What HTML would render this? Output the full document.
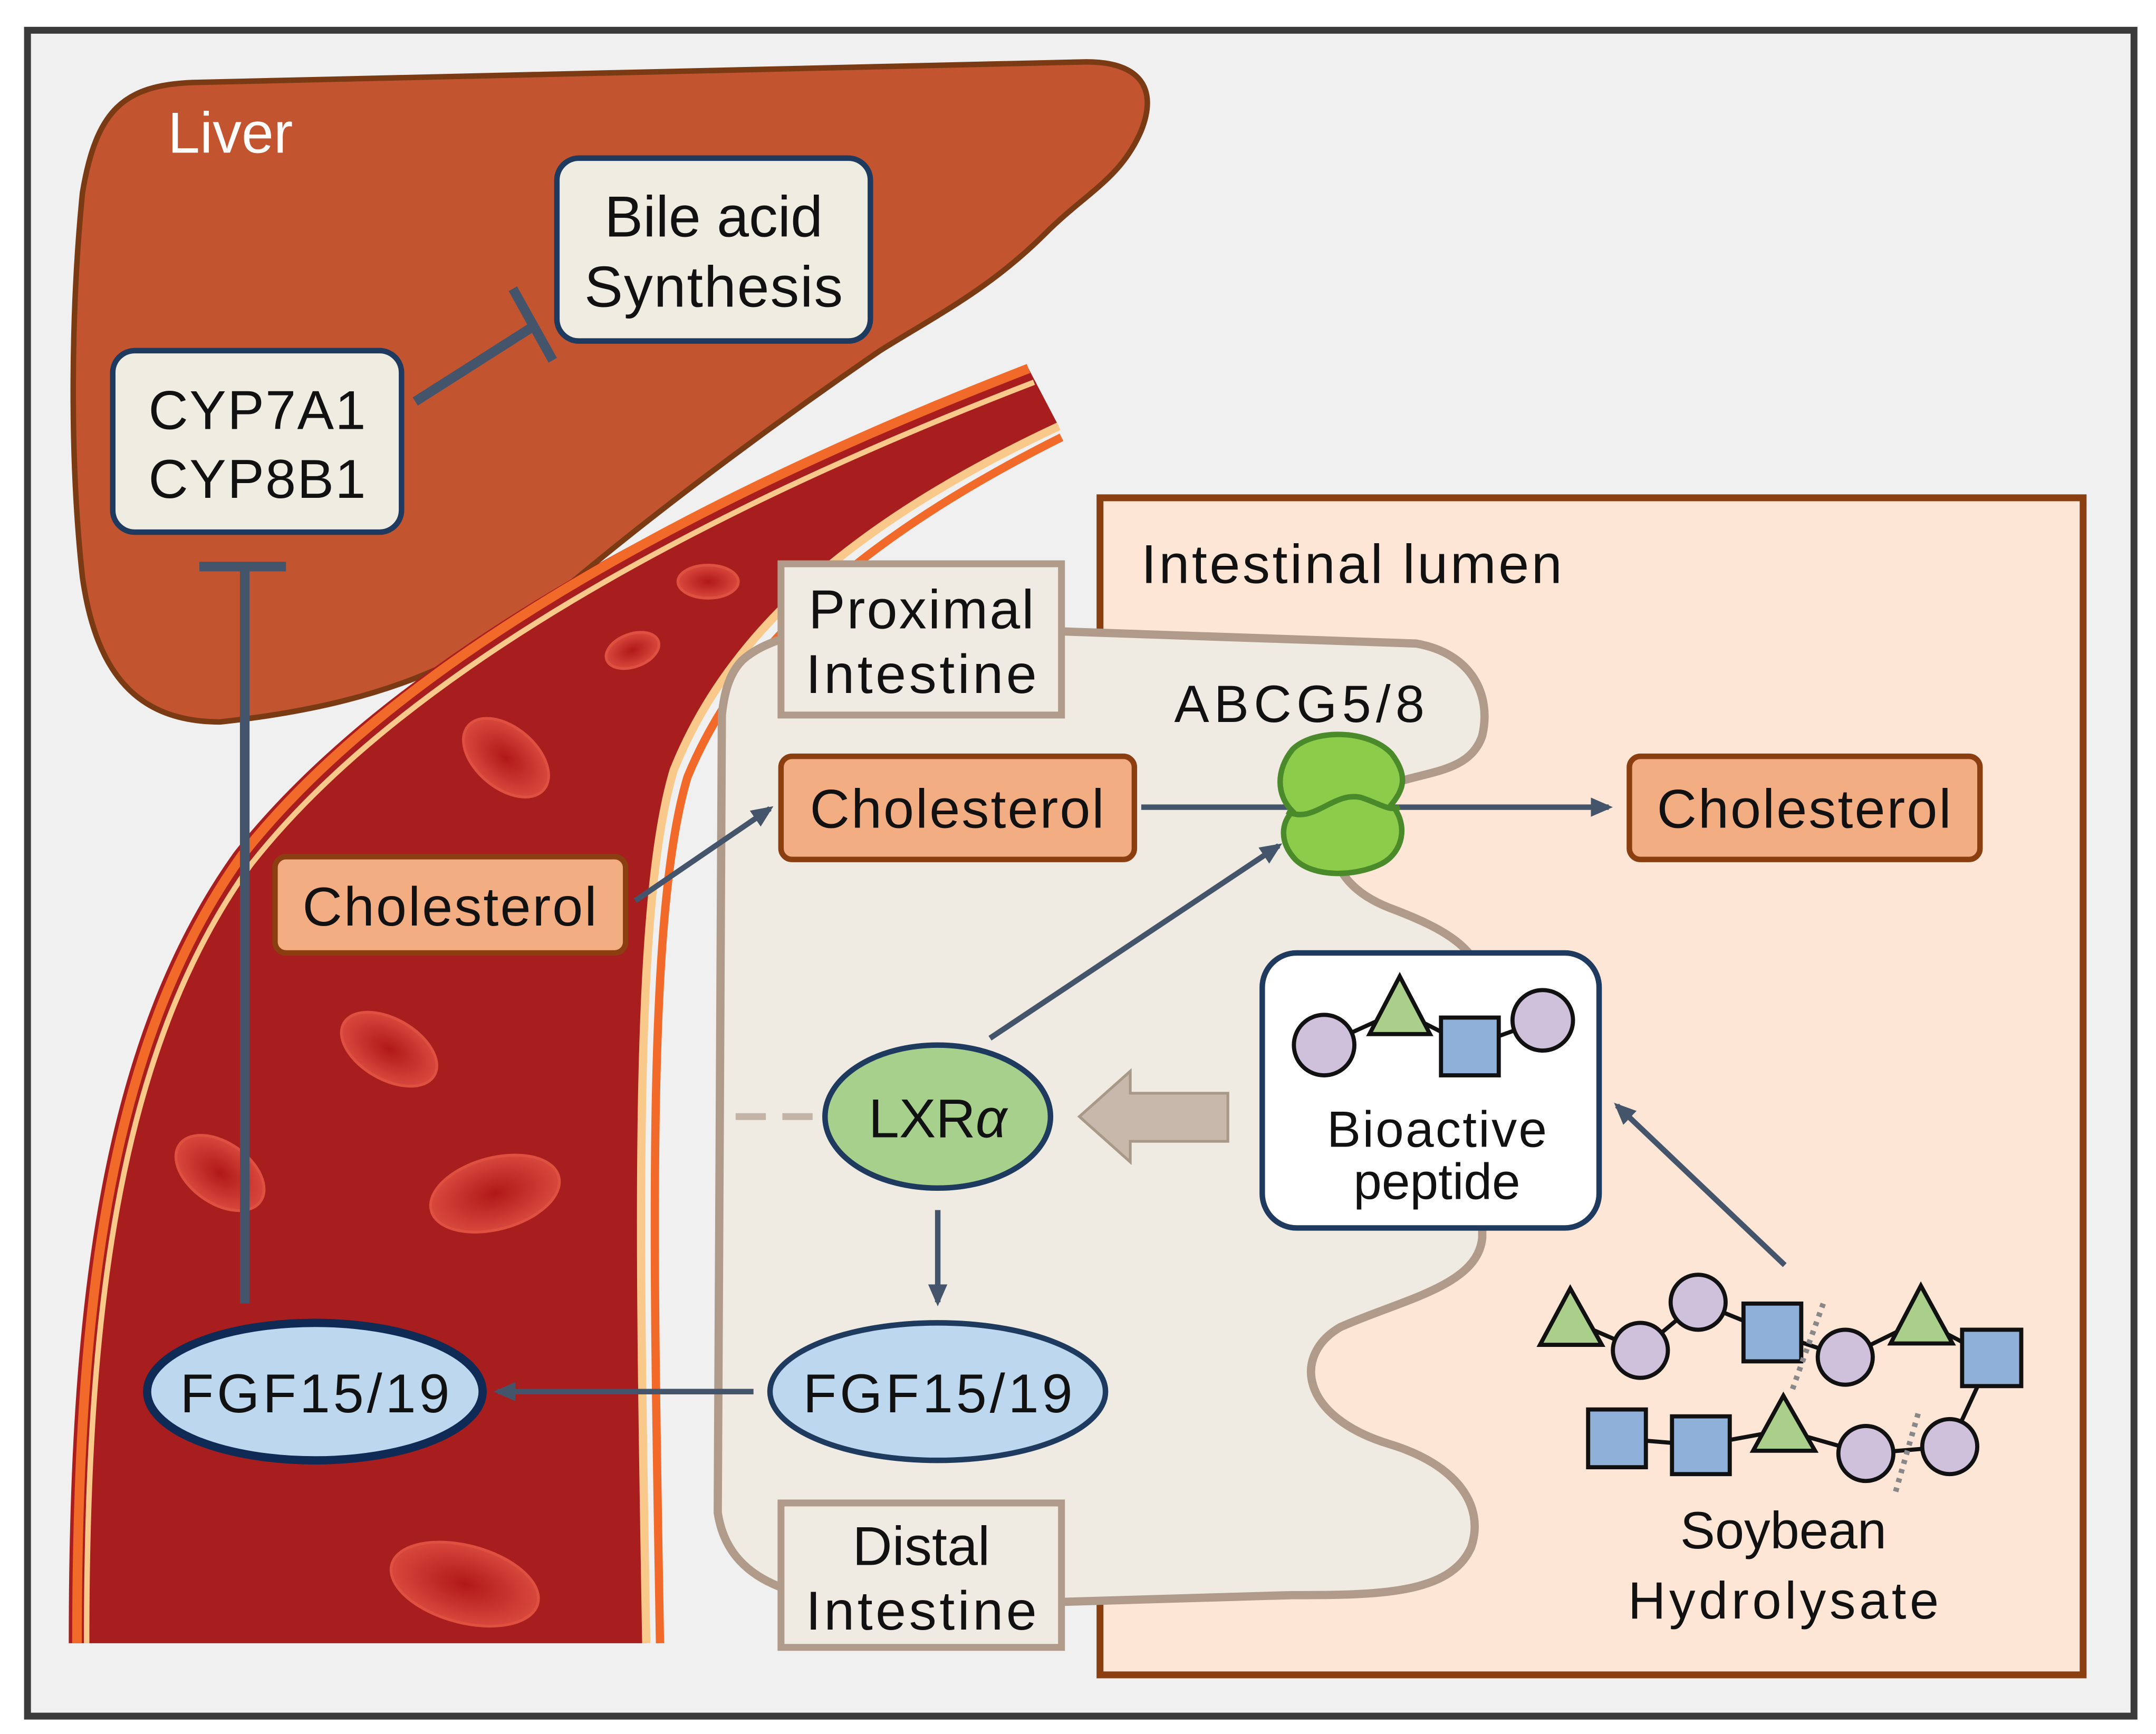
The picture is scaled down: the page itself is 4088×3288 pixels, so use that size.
<!DOCTYPE html>
<html><head><meta charset="utf-8"><style>
html,body{margin:0;padding:0;background:#fff;}
svg{display:block;}
text{font-family:"Liberation Sans",sans-serif;}
</style></head><body>
<svg width="4088" height="3288" viewBox="0 0 1568 1261" preserveAspectRatio="none" xmlns="http://www.w3.org/2000/svg">
<defs>
<radialGradient id="rbc" cx="50%" cy="50%" r="50%">
<stop offset="0" stop-color="#b01818"/><stop offset="1" stop-color="#d8483c"/>
</radialGradient>
<marker id="ah" markerWidth="16" markerHeight="14" refX="13" refY="7" orient="auto" markerUnits="userSpaceOnUse">
<path d="M0,0 L16,7 L0,14 z" fill="#44546a"/>
</marker>
</defs>
<rect x="0" y="0" width="1568" height="1261" fill="#fff"/>
<rect x="20" y="22" width="1532" height="1226" fill="#f0f0f0" stroke="#3a3a3a" stroke-width="5"/>

<path d="M60,140 C70,80 90,62 140,60 L790,45 C830,45 842,65 830,95 C815,130 790,140 760,170 C720,210 680,230 640,255 C560,310 480,370 420,420 C360,470 300,510 160,525 C100,525 70,490 60,420 C50,330 52,220 60,140 Z" fill="#c25530" stroke="#7a3a14" stroke-width="4"/>

<path d="M50,1195 C50,960 70,760 170,620 C280,480 500,360 748,268 L770,310 C620,380 530,460 490,560 C460,660 465,900 470,1195 Z" fill="#a81e1e"/>
<path d="M56,1195 C56,960 76,762 176,622 C286,482 505,362 748,268" fill="none" stroke="#f26a2a" stroke-width="7"/>
<path d="M63,1195 C63,965 83,766 183,628 C292,490 508,372 752,278" fill="none" stroke="#f8c98a" stroke-width="4"/>
<path d="M470,1195 C465,900 460,660 490,560 C530,460 620,380 770,310" fill="none" stroke="#f8c98a" stroke-width="6"/>
<path d="M480,1195 C475,900 470,665 500,565 C540,468 628,390 772,318" fill="none" stroke="#f26a2a" stroke-width="6"/>

<g stroke="#e05040" stroke-width="2" fill="url(#rbc)">
<ellipse cx="515" cy="423" rx="22" ry="12"/>
<ellipse cx="460" cy="473" rx="20" ry="12" transform="rotate(-20 460 473)"/>
<ellipse cx="368" cy="551" rx="36" ry="22" transform="rotate(40 368 551)"/>
<ellipse cx="283" cy="763" rx="38" ry="22" transform="rotate(30 283 763)"/>
<ellipse cx="160" cy="853" rx="36" ry="22" transform="rotate(35 160 853)"/>
<ellipse cx="360" cy="868" rx="48" ry="26" transform="rotate(-15 360 868)"/>
<ellipse cx="338" cy="1152" rx="55" ry="28" transform="rotate(15 338 1152)"/>
</g>

<rect x="800" y="362" width="715" height="856" fill="#fde6d6" stroke="#8b3f10" stroke-width="5"/>
<text x="830" y="424" font-size="40" fill="#111" textLength="306">Intestinal lumen</text>

<path d="M540,480 C560,462 600,455 650,455 L1030,468 C1070,475 1085,505 1078,535 C1068,565 1030,560 1000,575 C960,600 960,640 1010,660 C1050,675 1078,690 1078,720 L1078,900 C1075,935 1020,945 975,965 C940,985 945,1030 1010,1050 C1060,1065 1080,1095 1070,1125 C1055,1160 1000,1160 940,1160 L770,1165 L620,1165 C560,1160 528,1140 522,1100 L525,520 C527,500 532,488 540,480 Z" fill="#efebe2" stroke="#b09a8a" stroke-width="6"/>
<line x1="535" y1="812" x2="600" y2="812" stroke="#c4b4a8" stroke-width="5" stroke-dasharray="22,12"/>

<text x="122" y="111" font-size="42" fill="#fff">Liver</text>
<rect x="82" y="255" width="210" height="132" rx="16" fill="#efece2" stroke="#1f3a5f" stroke-width="4"/>
<text x="187" y="312" font-size="40" text-anchor="middle" fill="#111" textLength="158">CYP7A1</text>
<text x="187" y="362" font-size="40" text-anchor="middle" fill="#111" textLength="158">CYP8B1</text>
<rect x="405" y="115" width="228" height="133" rx="16" fill="#efece2" stroke="#1f3a5f" stroke-width="4"/>
<text x="519" y="172" font-size="42" text-anchor="middle" fill="#111">Bile acid</text>
<text x="519" y="223" font-size="42" text-anchor="middle" fill="#111" textLength="188">Synthesis</text>
<g stroke="#44546a" stroke-width="7" fill="none">
<line x1="302" y1="292" x2="390" y2="236"/>
<line x1="373" y1="210" x2="402" y2="262"/>
<line x1="178" y1="948" x2="178" y2="412"/>
<line x1="145" y1="412" x2="208" y2="412"/>
</g>

<rect x="568" y="410" width="204" height="110" fill="#efebe2" stroke="#b09a8a" stroke-width="5"/>
<text x="670" y="457" font-size="40" text-anchor="middle" fill="#111" textLength="164">Proximal</text>
<text x="670" y="504" font-size="40" text-anchor="middle" fill="#111" textLength="168">Intestine</text>
<rect x="568" y="1093" width="204" height="105" fill="#efebe2" stroke="#b09a8a" stroke-width="5"/>
<text x="670" y="1138" font-size="40" text-anchor="middle" fill="#111">Distal</text>
<text x="670" y="1185" font-size="40" text-anchor="middle" fill="#111" textLength="168">Intestine</text>

<g fill="#f2ae82" stroke="#8b3f10" stroke-width="4">
<rect x="200" y="623" width="255" height="70" rx="8"/>
<rect x="568" y="550" width="257" height="75" rx="8"/>
<rect x="1185" y="550" width="255" height="75" rx="8"/>
</g>
<g font-size="40" text-anchor="middle" fill="#111">
<text x="327" y="673" textLength="214">Cholesterol</text>
<text x="696" y="602" textLength="214">Cholesterol</text>
<text x="1312" y="602" textLength="214">Cholesterol</text>
</g>

<g stroke="#44546a" stroke-width="4" fill="none" marker-end="url(#ah)">
<line x1="462" y1="655" x2="560" y2="588"/>
<line x1="830" y1="587" x2="1170" y2="587"/>
<line x1="720" y1="755" x2="930" y2="615"/>
<line x1="682" y1="880" x2="682" y2="947"/>
<line x1="548" y1="1012" x2="362" y2="1012"/>
<line x1="1298" y1="920" x2="1176" y2="804"/>
</g>

<text x="945" y="525" font-size="38" text-anchor="middle" fill="#111" textLength="182">ABCG5/8</text>
<path d="M940,545 C955,530 995,530 1012,548 C1025,565 1020,575 1012,585 C1025,600 1020,620 1005,628 C985,638 955,638 942,625 C930,612 932,598 940,590 C928,578 928,560 940,545 Z" fill="#8ccc4a" stroke="#4a8a2a" stroke-width="4"/>
<path d="M936,590 C955,600 970,575 990,580 C1005,585 1010,590 1018,587" fill="none" stroke="#4a8a2a" stroke-width="4"/>

<ellipse cx="682" cy="812" rx="82" ry="52" fill="#a8d08d" stroke="#1f3a5f" stroke-width="4"/>
<text x="682" y="827" font-size="40" text-anchor="middle" fill="#111">LXR<tspan font-style="italic">α</tspan></text>
<path d="M893,795 L893,830 L822,830 L822,845 L785,812 L822,779 L822,795 Z" fill="#c8b8ac" stroke="#a89888" stroke-width="2"/>

<ellipse cx="682" cy="1012" rx="122" ry="50" fill="#bdd7ee" stroke="#1f3a5f" stroke-width="4"/>
<text x="682" y="1027" font-size="40" text-anchor="middle" fill="#111" textLength="196">FGF15/19</text>
<ellipse cx="229" cy="1012" rx="122" ry="50" fill="#bdd7ee" stroke="#0f2a55" stroke-width="6"/>
<text x="229" y="1027" font-size="40" text-anchor="middle" fill="#111" textLength="196">FGF15/19</text>

<rect x="918" y="693" width="245" height="200" rx="25" fill="#fff" stroke="#1f3a5f" stroke-width="4"/>
<g stroke="#111" stroke-width="3">
<line x1="963" y1="760" x2="1018" y2="735"/><line x1="1018" y1="735" x2="1069" y2="761"/><line x1="1069" y1="761" x2="1122" y2="742"/>
<circle cx="963" cy="760" r="22" fill="#cfc0dc"/>
<path d="M996,752 L1018,710 L1040,752 Z" fill="#aacf8a"/>
<rect x="1048" y="740" width="42" height="42" fill="#8fb0d8"/>
<circle cx="1122" cy="742" r="22" fill="#cfc0dc"/>
</g>
<text x="1045" y="834" font-size="37" text-anchor="middle" fill="#111" textLength="160">Bioactive</text>
<text x="1045" y="872" font-size="37" text-anchor="middle" fill="#111">peptide</text>

<g stroke="#111" stroke-width="3">
<polyline points="1142,960 1193,982 1235,947 1289,969 1342,987 1397,960 1448,987 1418,1052 1357,1057 1297,1040 1237,1051 1176,1046" fill="none"/>
<path d="M1120,978 L1142,937 L1165,978 Z" fill="#aacf8a"/>
<circle cx="1193" cy="982" r="20" fill="#cfc0dc"/>
<circle cx="1235" cy="947" r="20" fill="#cfc0dc"/>
<rect x="1268" y="948" width="42" height="42" fill="#8fb0d8"/>
<circle cx="1342" cy="987" r="20" fill="#cfc0dc"/>
<path d="M1375,977 L1397,935 L1420,977 Z" fill="#aacf8a"/>
<rect x="1427" y="967" width="43" height="41" fill="#8fb0d8"/>
<rect x="1155" y="1025" width="42" height="42" fill="#8fb0d8"/>
<rect x="1216" y="1030" width="42" height="42" fill="#8fb0d8"/>
<path d="M1275,1055 L1297,1015 L1320,1055 Z" fill="#aacf8a"/>
<circle cx="1357" cy="1057" r="20" fill="#cfc0dc"/>
<circle cx="1418" cy="1052" r="20" fill="#cfc0dc"/>
</g>
<g stroke="#888" stroke-width="4" stroke-dasharray="3,4">
<line x1="1326" y1="948" x2="1303" y2="1012"/>
<line x1="1395" y1="1028" x2="1378" y2="1087"/>
</g>
<text x="1297" y="1126" font-size="38" text-anchor="middle" fill="#111">Soybean</text>
<text x="1297" y="1177" font-size="38" text-anchor="middle" fill="#111" textLength="226">Hydrolysate</text>
</svg>
</body></html>
